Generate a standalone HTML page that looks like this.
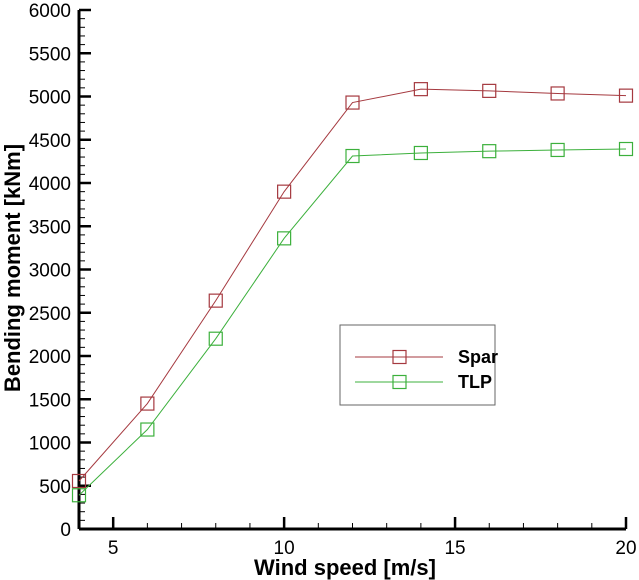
<!DOCTYPE html>
<html><head><meta charset="utf-8"><style>
body{margin:0;background:#fff;}
svg{display:block;font-family:"Liberation Sans",Arial,sans-serif;}
</style></head><body>
<svg id="chart" width="639" height="580" viewBox="0 0 639 580"></svg>
<script>
const windSpeeds=[4,6,8,10,12,14,16,18,20];
const sparValues=[555,1450,2640,3900,4930,5085,5065,5035,5010];
const tlpValues=[390,1150,2200,3360,4312,4347,4368,4382,4393];
const xTicks=[5,10,15,20];
const yTicks=[0,500,1000,1500,2000,2500,3000,3500,4000,4500,5000,5500,6000];
const NS="http://www.w3.org/2000/svg";
const svg=document.getElementById('chart');
const X0=79,X1=626,Y0=529,Y1=10;
const xs=v=>X0+(v-4)/(20-4)*(X1-X0);
const ys=v=>Y0-v/6000*(Y0-Y1);
function mk(tag,attrs,parent){const e=document.createElementNS(NS,tag);for(const k in attrs)e.setAttribute(k,attrs[k]);(parent||svg).appendChild(e);return e;}
const axes=mk('g',{});


mk('line',{x1:X0,y1:Y0,x2:X1,y2:Y0,stroke:'#000','stroke-width':3},axes);
mk('line',{x1:X0,y1:Y0,x2:X0,y2:Y1,stroke:'#000','stroke-width':3},axes);
for(let v=4;v<=20;v++){const major=v%5===0;mk('line',{x1:xs(v),y1:Y0,x2:xs(v),y2:Y0-(major?12:6),stroke:'#000','stroke-width':major?2.5:1},axes);}
for(let v=0;v<=6000;v+=100){const major=v%500===0;mk('line',{x1:X0,y1:ys(v),x2:X0+(major?12:6),y2:ys(v),stroke:'#000','stroke-width':major?2.5:1},axes);}
xTicks.forEach(t=>{const e=mk('text',{x:xs(t),y:554,'text-anchor':'middle','font-size':19,fill:'#000'});e.textContent=t;

});
yTicks.forEach(t=>{const e=mk('text',{x:X0-8,y:ys(t)+7,'text-anchor':'end','font-size':19,fill:'#000'});e.textContent=t;

});
const xt=mk('text',{x:345,y:575,'text-anchor':'middle','font-size':22,'font-weight':'bold'});xt.textContent='Wind speed [m/s]';


const yt=mk('text',{x:0,y:0,'text-anchor':'middle','font-size':22,'font-weight':'bold',transform:'translate(20,268) rotate(-90)'});yt.textContent='Bending moment [kNm]';


function series(vals,color,name){
 const g=mk('g',{});
 
 
 mk('polyline',{points:windSpeeds.map((w,i)=>xs(w)+','+ys(vals[i])).join(' '),fill:'none',stroke:color,'stroke-width':1},g);
 windSpeeds.forEach((w,i)=>{const r=mk('rect',{x:xs(w)-6.5,y:ys(vals[i])-6.5,width:13,height:13,fill:'none',stroke:color,'stroke-width':1.2},g);
 
 });
}
series(sparValues,'#a5393f','spar');
series(tlpValues,'#3cb03c','tlp');
const lg=mk('g',{});


mk('rect',{x:340,y:325,width:155,height:80,fill:'#fff',stroke:'#666','stroke-width':1},lg);
[['Spar','#a5393f',357],['TLP','#3cb03c',382]].forEach(([n,c,y])=>{
 mk('line',{x1:355,y1:y,x2:443,y2:y,stroke:c,'stroke-width':1},lg);
 mk('rect',{x:393,y:y-6.5,width:13,height:13,fill:'none',stroke:c,'stroke-width':1.2},lg);
 const t=mk('text',{x:458,y:y+6,'font-size':18,'font-weight':'bold'},lg);t.textContent=n;
 
 
});
</script>
</body></html>
